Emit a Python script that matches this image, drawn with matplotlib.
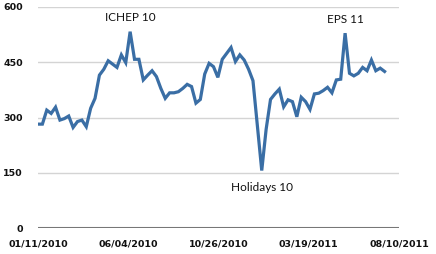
import matplotlib
matplotlib.use("Agg")
import matplotlib.pyplot as plt
import matplotlib.dates as mdates
import pandas as pd

# weekly values, starting 01/11/2010
start_date = "2010-01-11"
values = [282, 282, 320, 311, 328, 293, 297, 304, 273, 289,
          293, 275, 325, 352, 415, 431, 454, 445, 436, 470,
          449, 533, 458, 458, 402, 415, 427, 411, 379, 352,
          367, 367, 370, 379, 390, 384, 339, 349, 418, 447,
          438, 409, 458, 474, 490, 452, 470, 456, 431, 400,
          278, 156, 268, 349, 364, 377, 329, 348, 343, 302,
          355, 343, 322, 364, 366, 373, 382, 367, 402, 404,
          529, 420, 413, 420, 436, 427, 456, 427, 434, 425]
tick_dates = ["2010-01-11", "2010-06-04", "2010-10-26", "2011-03-19", "2011-08-10"]
y_ticks = [0, 150, 300, 450, 600]
# (label, index of the point it refers to, offset in points)
notes = [("ICHEP 10", 21, (0, 10)),
         ("Holidays 10", 51, (0, -12)),
         ("EPS 11", 70, (0, 10))]


def main():
    dates = pd.date_range(start_date, periods=len(values), freq="7D")
    ticks = pd.to_datetime(tick_dates)

    fig = plt.figure(figsize=(4.36, 2.54), dpi=100)
    ax = fig.add_axes([38 / 436, 1 - 228 / 254, 361 / 436, 221 / 254])

    for y in y_ticks[1:]:
        ax.axhline(y, color="#d4d4d4", lw=1, zorder=0)
    ax.axhline(0, color="#777777", lw=1.5, zorder=1)

    ax.plot(dates, values, color="#3a6ea5", lw=2.3, solid_joinstyle="miter", zorder=3)

    for label, i, off in notes:
        ax.annotate(label, xy=(dates[i], values[i]), xytext=off,
                    textcoords="offset points", ha="center", va="center",
                    fontsize=8.5, family="Lato", color="#111111")

    ax.set_xlim(ticks[0], ticks[-1])
    ax.set_ylim(0, 600)
    ax.set_xticks(ticks)
    ax.xaxis.set_major_formatter(mdates.DateFormatter("%m/%d/%Y"))
    ax.set_yticks(y_ticks)
    ax.tick_params(length=0, labelsize=6.8, colors="#111111")
    ax.tick_params(axis="y", pad=11)
    ax.tick_params(axis="x", pad=8)
    for lab in ax.get_xticklabels() + ax.get_yticklabels():
        lab.set_fontweight("bold")
    for s in ax.spines.values():
        s.set_visible(False)

    fig.savefig("out.png", dpi=100)


if __name__ == "__main__":
    main()
